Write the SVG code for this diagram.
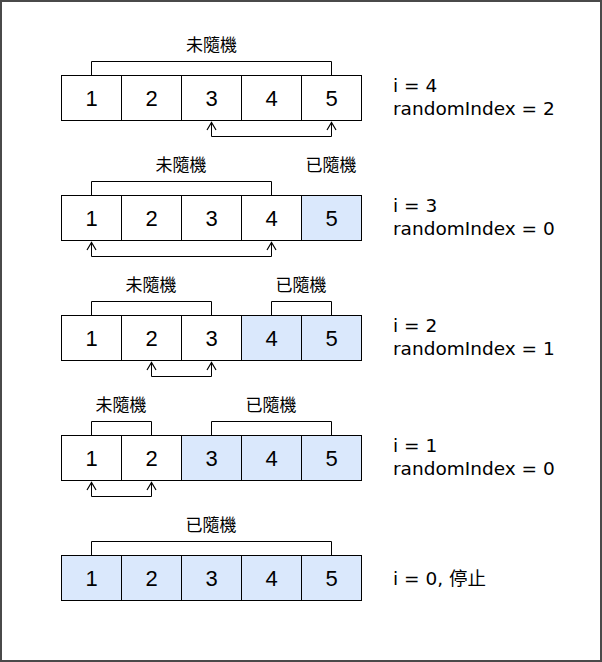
<svg xmlns="http://www.w3.org/2000/svg" width="602" height="662" viewBox="0 0 602 662">
<style>
.cell{fill:#ffffff;stroke:#000;stroke-width:1}
.done{fill:#dae8fc;stroke:#000;stroke-width:1}
.num{font-family:"Liberation Sans",Arial,sans-serif;font-size:22px;fill:#000;text-anchor:middle}
.lbl{font-family:"Liberation Sans","Noto Sans CJK TC",sans-serif;font-size:17px;fill:#000;text-anchor:middle}
.info{font-family:"DejaVu Sans","Noto Sans CJK TC",sans-serif;font-size:18.5px;fill:#000}
.br{fill:none;stroke:#000;stroke-width:1}
.ar{fill:none;stroke:#000;stroke-width:1;marker-start:url(#oa);marker-end:url(#oa)}
</style>
<defs>
<marker id="oa" viewBox="-1 -6 10 12" markerWidth="10" markerHeight="12" refX="7.5" refY="0" orient="auto-start-reverse" markerUnits="userSpaceOnUse">
<path d="M0,-4.5 L7.5,0 L0,4.5" fill="none" stroke="#000" stroke-width="1.2"/>
</marker>
</defs>
<rect x="1" y="1" width="600" height="660" fill="#fff" stroke="#4a4a4a" stroke-width="2"/>

<g id="row1">
<g id="r1c1"><rect class="cell" x="61.5" y="75.5" width="60" height="45"/><text class="num" x="91.5" y="106">1</text></g>
<g id="r1c2"><rect class="cell" x="121.5" y="75.5" width="60" height="45"/><text class="num" x="151.5" y="106">2</text></g>
<g id="r1c3"><rect class="cell" x="181.5" y="75.5" width="60" height="45"/><text class="num" x="211.5" y="106">3</text></g>
<g id="r1c4"><rect class="cell" x="241.5" y="75.5" width="60" height="45"/><text class="num" x="271.5" y="106">4</text></g>
<g id="r1c5"><rect class="cell" x="301.5" y="75.5" width="60" height="45"/><text class="num" x="331.5" y="106">5</text></g>
<g id="r1u"><path class="br" d="M91.5,75.5 V61.5 H331.5 V75.5"/><text class="lbl" x="211.5" y="51">未隨機</text></g>
<g id="r1info"><text class="info" x="393" y="92">i = 4</text><text class="info" x="393" y="115">randomIndex = 2</text></g>
</g>

<g id="row2">
<g id="r2c1"><rect class="cell" x="61.5" y="195.5" width="60" height="45"/><text class="num" x="91.5" y="226">1</text></g>
<g id="r2c2"><rect class="cell" x="121.5" y="195.5" width="60" height="45"/><text class="num" x="151.5" y="226">2</text></g>
<g id="r2c3"><rect class="cell" x="181.5" y="195.5" width="60" height="45"/><text class="num" x="211.5" y="226">3</text></g>
<g id="r2c4"><rect class="cell" x="241.5" y="195.5" width="60" height="45"/><text class="num" x="271.5" y="226">4</text></g>
<g id="r2c5"><rect class="done" x="301.5" y="195.5" width="60" height="45"/><text class="num" x="331.5" y="226">5</text></g>
<g id="r2u"><path class="br" d="M91.5,195.5 V181.5 H271.5 V195.5"/><text class="lbl" x="181" y="171">未隨機</text></g>
<g id="r2d"><text class="lbl" x="331" y="171">已隨機</text></g>
<g id="r2info"><text class="info" x="393" y="212">i = 3</text><text class="info" x="393" y="235">randomIndex = 0</text></g>
</g>

<g id="row3">
<g id="r3c1"><rect class="cell" x="61.5" y="315.5" width="60" height="45"/><text class="num" x="91.5" y="346">1</text></g>
<g id="r3c2"><rect class="cell" x="121.5" y="315.5" width="60" height="45"/><text class="num" x="151.5" y="346">2</text></g>
<g id="r3c3"><rect class="cell" x="181.5" y="315.5" width="60" height="45"/><text class="num" x="211.5" y="346">3</text></g>
<g id="r3c4"><rect class="done" x="241.5" y="315.5" width="60" height="45"/><text class="num" x="271.5" y="346">4</text></g>
<g id="r3c5"><rect class="done" x="301.5" y="315.5" width="60" height="45"/><text class="num" x="331.5" y="346">5</text></g>
<g id="r3u"><path class="br" d="M91.5,315.5 V301.5 H211.5 V315.5"/><text class="lbl" x="151" y="291">未隨機</text></g>
<g id="r3d"><path class="br" d="M271.5,315.5 V301.5 H331.5 V315.5"/><text class="lbl" x="301" y="291">已隨機</text></g>
<g id="r3info"><text class="info" x="393" y="332">i = 2</text><text class="info" x="393" y="355">randomIndex = 1</text></g>
</g>

<g id="row4">
<g id="r4c1"><rect class="cell" x="61.5" y="435.5" width="60" height="45"/><text class="num" x="91.5" y="466">1</text></g>
<g id="r4c2"><rect class="cell" x="121.5" y="435.5" width="60" height="45"/><text class="num" x="151.5" y="466">2</text></g>
<g id="r4c3"><rect class="done" x="181.5" y="435.5" width="60" height="45"/><text class="num" x="211.5" y="466">3</text></g>
<g id="r4c4"><rect class="done" x="241.5" y="435.5" width="60" height="45"/><text class="num" x="271.5" y="466">4</text></g>
<g id="r4c5"><rect class="done" x="301.5" y="435.5" width="60" height="45"/><text class="num" x="331.5" y="466">5</text></g>
<g id="r4u"><path class="br" d="M91.5,435.5 V421.5 H151.5 V435.5"/><text class="lbl" x="121" y="411">未隨機</text></g>
<g id="r4d"><path class="br" d="M211.5,435.5 V421.5 H331.5 V435.5"/><text class="lbl" x="271" y="411">已隨機</text></g>
<g id="r4info"><text class="info" x="393" y="452">i = 1</text><text class="info" x="393" y="475">randomIndex = 0</text></g>
</g>

<g id="row5">
<g id="r5c1"><rect class="done" x="61.5" y="555.5" width="60" height="45"/><text class="num" x="91.5" y="586">1</text></g>
<g id="r5c2"><rect class="done" x="121.5" y="555.5" width="60" height="45"/><text class="num" x="151.5" y="586">2</text></g>
<g id="r5c3"><rect class="done" x="181.5" y="555.5" width="60" height="45"/><text class="num" x="211.5" y="586">3</text></g>
<g id="r5c4"><rect class="done" x="241.5" y="555.5" width="60" height="45"/><text class="num" x="271.5" y="586">4</text></g>
<g id="r5c5"><rect class="done" x="301.5" y="555.5" width="60" height="45"/><text class="num" x="331.5" y="586">5</text></g>
<g id="r5d"><path class="br" d="M91.5,555.5 V541.5 H331.5 V555.5"/><text class="lbl" x="211" y="531">已隨機</text></g>
<g id="r5info"><text class="info" x="393" y="585">i = 0, 停止</text></g>
</g>

<g id="connectors">
<path class="ar" d="M211.5,122.5 V136.5 H331.5 V122.5"/>
<path class="ar" d="M91.5,242.5 V256.5 H271.5 V242.5"/>
<path class="ar" d="M151.5,362.5 V376.5 H211.5 V362.5"/>
<path class="ar" d="M91.5,482.5 V496.5 H151.5 V482.5"/>
</g>
</svg>
